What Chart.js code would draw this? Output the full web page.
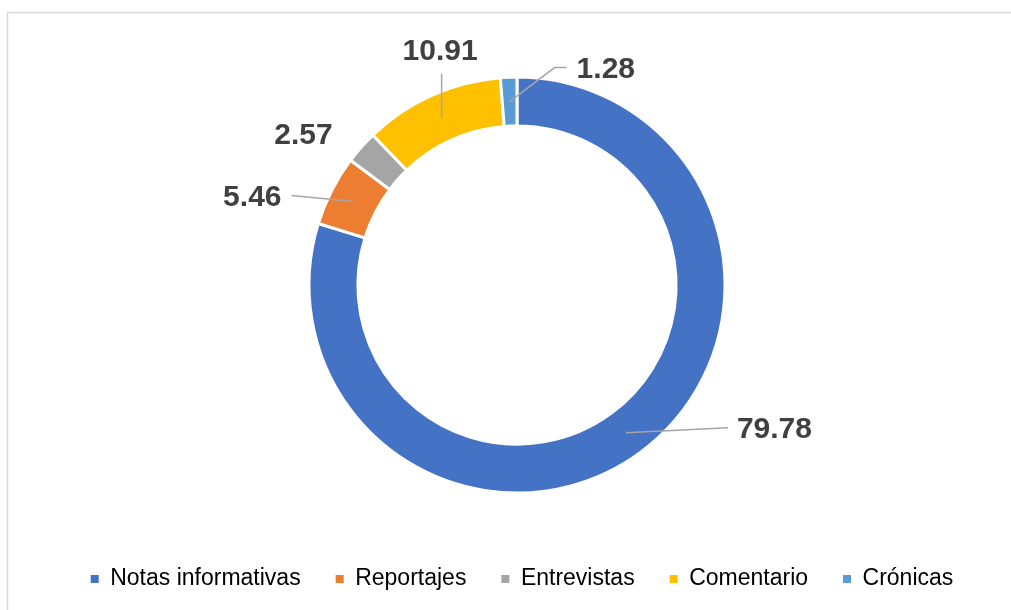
<!DOCTYPE html>
<html>
<head>
<meta charset="utf-8">
<script src="https://cdn.jsdelivr.net/npm/chart.js@4/dist/chart.umd.min.js"></script>
<style>
  html, body { margin: 0; padding: 0; background: #ffffff; }
  #wrap { position: relative; width: 1011px; height: 610px; }
</style>
</head>
<body>
<div id="wrap"><canvas id="c" width="1011" height="610"></canvas></div>
<script>
// ---- Data ----
const categories = ["Notas informativas", "Reportajes", "Entrevistas", "Comentario", "Crónicas"];
const values = [79.78, 5.46, 2.57, 10.91, 1.28];
const valueLabels = ["79.78", "5.46", "2.57", "10.91", "1.28"];
const colors = ["#4472C4", "#ED7D31", "#A5A5A5", "#FFC000", "#5B9BD5"];

// ---- Label placement (offsets from each ring segment's mid point) ----
const labelLayout = [
  { line: [[102, -5]], text: [111, -4], align: "left" },
  { line: [[-62, -6]], text: [-72, -4.5], align: "right" },
  { line: [], text: [-76, -28.5], align: "center" },
  { line: [[0, -44]], text: [-1.5, -67], align: "center" },
  { line: [[45, -34], [57, -34]], text: [67, -33], align: "left" }
];

const framePlugin = {
  id: "frame",
  beforeDraw(chart) {
    const ctx = chart.ctx;
    ctx.save();
    ctx.fillStyle = "#ffffff";
    ctx.fillRect(0, 0, chart.width, chart.height);
    ctx.strokeStyle = "#d9d9d9";
    ctx.lineWidth = 1.5;
    ctx.beginPath();
    ctx.moveTo(7.5, chart.height + 5);
    ctx.lineTo(7.5, 12.5);
    ctx.lineTo(chart.width + 5, 12.5);
    ctx.stroke();
    ctx.restore();
  }
};

const legendShiftPlugin = {
  id: "legendShift",
  afterLayout(chart) {
    if (chart.legend) {
      chart.legend.left += 5;
      chart.legend.right += 5;
    }
  }
};

const labelPlugin = {
  id: "sliceLabels",
  afterDatasetsDraw(chart) {
    const ctx = chart.ctx;
    const meta = chart.getDatasetMeta(0);
    ctx.save();
    meta.data.forEach((arc, i) => {
      const p = arc.getProps(["x", "y", "startAngle", "endAngle", "innerRadius", "outerRadius"], true);
      const mid = (p.startAngle + p.endAngle) / 2;
      const r = (p.innerRadius + p.outerRadius) / 2;
      const ax = p.x + Math.cos(mid) * r;
      const ay = p.y + Math.sin(mid) * r;
      const lay = labelLayout[i];
      if (lay.line.length) {
        ctx.strokeStyle = "#a6a6a6";
        ctx.lineWidth = 1.5;
        ctx.beginPath();
        ctx.moveTo(ax, ay);
        lay.line.forEach(([dx, dy]) => ctx.lineTo(ax + dx, ay + dy));
        ctx.stroke();
      }
      ctx.fillStyle = "#404040";
      ctx.font = 'bold 30px "Liberation Sans", Arial, sans-serif';
      ctx.textAlign = lay.align;
      ctx.textBaseline = "middle";
      ctx.fillText(valueLabels[i], ax + lay.text[0], ay + lay.text[1] + 1);
    });
    ctx.restore();
  }
};

new Chart(document.getElementById("c"), {
  type: "doughnut",
  data: {
    labels: categories,
    datasets: [{
      data: values,
      backgroundColor: colors,
      borderColor: "#ffffff",
      borderWidth: 3,
      hoverOffset: 0
    }]
  },
  options: {
    responsive: false,
    animation: false,
    radius: 208,
    cutout: "76.5%",
    layout: { padding: { left: 23, right: 0, top: 37.5, bottom: 9.5 } },
    plugins: {
      tooltip: { enabled: false },
      legend: {
        display: true,
        position: "bottom",
        labels: {
          boxWidth: 8,
          boxHeight: 8,
          padding: 35,
          color: "#000000",
          font: { family: '"Liberation Sans", Arial, sans-serif', size: 23 },
          generateLabels(chart) {
            const items = Chart.overrides.doughnut.plugins.legend.labels.generateLabels(chart);
            items.forEach(it => { it.lineWidth = 0; it.strokeStyle = "rgba(0,0,0,0)"; });
            return items;
          }
        }
      }
    }
  },
  plugins: [framePlugin, legendShiftPlugin, labelPlugin]
});
</script>
</body>
</html>
